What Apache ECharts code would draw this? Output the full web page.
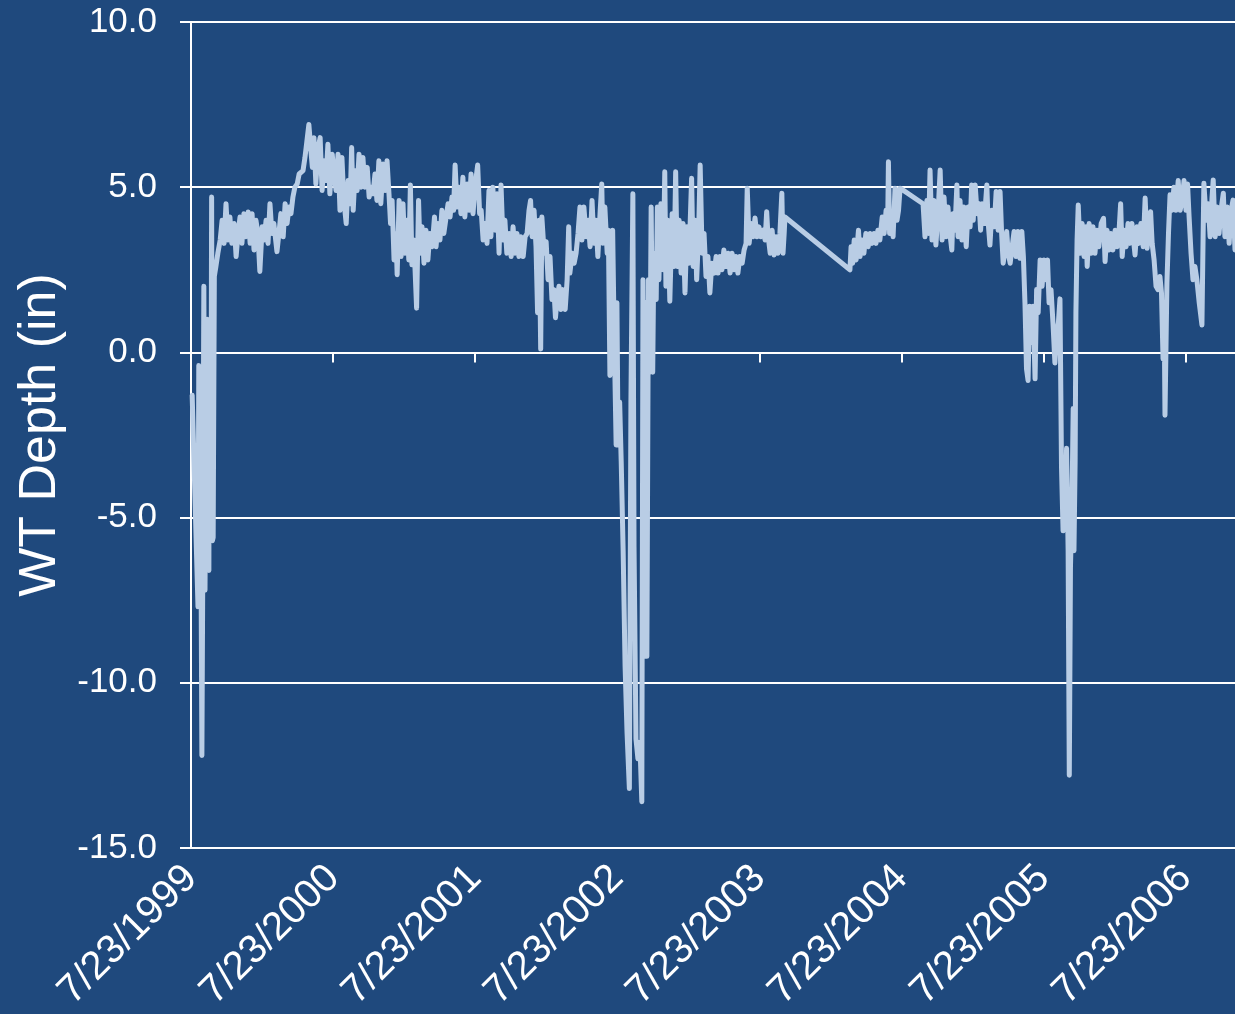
<!DOCTYPE html>
<html>
<head>
<meta charset="utf-8">
<title>WT Depth</title>
<script src="https://cdn.jsdelivr.net/npm/echarts@6/dist/echarts.min.js"></script>
<style>
  html, body { margin: 0; padding: 0; background: #1F497D; }
  #chart { width: 1235px; height: 1014px; }
</style>
</head>
<body>
<div id="chart"></div>
<script>
// Water-table depth record, one reading per sample day.
// Days are counted from 7/23/1999.
const yearTickLabels = ['7/23/1999', '7/23/2000', '7/23/2001', '7/23/2002',
                        '7/23/2003', '7/23/2004', '7/23/2005', '7/23/2006'];
const daysPerYear = 365.25;
const lastDay = 2684;

const sampleDays = [
  3, 18, 20, 22, 24, 26, 28, 30, 33, 36, 40, 42, 44, 45, 46, 47, 48, 50, 51, 53, 55, 57, 60, 64, 69, 75,
  80, 85, 90, 95, 100, 105, 111, 116, 121, 126, 131, 136, 141, 147, 152, 157, 162, 167, 172, 177,
  183, 188, 193, 198, 203, 208, 213, 221, 226, 231, 237, 242, 247, 252, 257, 262, 267, 273, 278,
  283, 288, 293, 298, 303, 309, 312, 316, 321, 327, 332, 337, 342, 347, 352, 357, 363, 368,
  373, 378, 383, 388, 393, 399, 404, 409, 413, 417, 422, 427, 432, 437, 442, 447, 453, 458, 463,
  468, 473, 478, 483, 488, 494, 499, 504, 509, 513, 517, 522, 527, 530, 535, 540, 545, 550, 555,
  560, 564, 568, 573, 580, 585, 589, 594, 599, 604, 609, 614, 620, 626, 630, 635, 640, 645, 650,
  656, 661, 666, 671, 675, 679, 684, 689, 694, 699, 704, 710, 715,
  720, 725, 730, 737, 742, 746, 751, 756, 761, 766, 771, 776, 782, 787, 792, 797, 802, 807, 812,
  818, 823, 828, 833, 838, 843, 848, 854, 859, 864, 869, 873, 877, 882, 887, 891, 895, 899, 902,
  908, 913, 918, 923, 928, 933, 937, 941, 946, 951, 956, 962, 967, 971, 974, 980, 985, 990, 995,
  1000, 1005, 1010, 1016, 1021, 1026, 1031, 1036, 1041, 1046, 1052, 1056, 1059, 1064, 1070, 1073,
  1077, 1080, 1084, 1088, 1093, 1095, 1098, 1102, 1106, 1111, 1116, 1121, 1127, 1131, 1136, 1139,
  1144, 1149, 1154, 1159, 1162, 1165, 1169, 1172, 1176, 1180, 1183, 1187, 1190, 1196, 1199, 1203,
  1208, 1214, 1218, 1221, 1226, 1231, 1237, 1242, 1246, 1250, 1255, 1260, 1265, 1270, 1275, 1280,
  1287, 1291, 1296, 1300, 1305, 1309, 1314, 1319, 1324, 1329, 1334, 1339, 1345, 1350, 1355, 1360,
  1365, 1370, 1375, 1381, 1386, 1391, 1396, 1401, 1406, 1411, 1417, 1422, 1427, 1430, 1435, 1440,
  1445, 1450, 1455, 1460, 1465, 1471, 1476, 1480, 1483, 1489, 1494, 1499, 1504, 1509, 1514, 1519,
  1522, 1525, 1527,
  1694, 1697, 1701, 1705, 1710, 1716, 1720, 1725, 1730, 1735, 1741, 1746, 1751, 1756, 1761, 1766,
  1771, 1777, 1782, 1787, 1791, 1793, 1796, 1800, 1805, 1810, 1815, 1819, 1823,
  1882, 1887, 1892, 1896, 1900, 1905, 1910, 1915, 1921, 1926, 1931, 1936, 1941, 1946, 1951, 1956,
  1959, 1964, 1969, 1972, 1977, 1982, 1987, 1993, 1998, 2003, 2007, 2011, 2016, 2021, 2026, 2030,
  2034, 2039, 2046, 2049, 2054, 2059, 2065, 2070, 2075, 2080, 2084, 2088, 2093, 2097, 2101, 2106,
  2111, 2116, 2121, 2126, 2131, 2136, 2140, 2144, 2148, 2152, 2156, 2160, 2165, 2170, 2174, 2178,
  2183, 2188, 2193, 2198, 2202, 2206, 2211, 2216, 2221, 2226, 2230, 2234, 2238, 2242, 2246, 2251,
  2255, 2258, 2261, 2265, 2268, 2270, 2273, 2275, 2278, 2281,
  2286, 2291, 2296, 2301, 2304, 2309, 2314, 2319, 2324, 2329, 2334, 2340, 2346, 2350, 2355, 2360,
  2365, 2370, 2376, 2381, 2386, 2390, 2394, 2399, 2404, 2409, 2414, 2419, 2424, 2427, 2432, 2437,
  2442, 2448, 2453, 2458, 2463, 2467, 2471, 2476, 2481, 2486, 2491, 2495, 2499, 2502, 2504, 2509,
  2513, 2517, 2522, 2527, 2532, 2538, 2543, 2548, 2553, 2558, 2562, 2566, 2571, 2576, 2581, 2586,
  2592, 2599, 2602, 2604, 2610, 2615, 2620, 2625, 2628, 2633, 2638, 2643, 2648, 2654, 2658, 2664,
  2669, 2674, 2679, 2684
];

const wtDepth = [
  -1.3, -7.7, -0.4, -7.3, -0.6, -7.0, -12.2, -7.3, 2.0, -7.2, -0.2, 1.0, -6.5, -0.5, -6.6, 0.5, -5.2, -0.3, -5.3, 4.7, -5.7, -5.6, 2.3, 2.6, 3.0, 3.4,
  4.0, 3.3, 4.5, 3.4, 4.1, 3.3, 3.9, 2.9, 3.6, 4.1, 3.3, 4.2, 3.5, 4.25, 3.3, 4.2, 3.1, 4.0, 3.6, 2.45,
  3.8, 3.4, 4.0, 3.3, 4.5, 3.6, 3.9, 3.05, 3.6, 4.2, 3.5, 4.5, 3.9, 4.4, 4.2, 4.7, 5.0, 5.1, 5.4,
  5.4, 5.5, 5.9, 6.4, 6.9, 6.0, 5.6, 6.5, 5.1, 6.2, 6.5, 4.9, 5.8, 5.2, 6.3, 4.8, 6.0, 5.4,
  4.9, 6.0, 4.3, 5.9, 4.6, 3.9, 5.2, 4.5, 6.2, 4.3, 5.5, 4.9, 6.0, 5.0, 5.9, 5.0, 5.6, 4.7, 5.0,
  4.8, 5.4, 4.6, 5.8, 4.5, 5.7, 4.9, 5.8, 4.8, 3.9, 4.6, 2.8, 3.6, 2.35, 4.6, 2.9, 4.5, 3.0, 4.0,
  2.8, 5.07, 2.65, 3.4, 1.34, 4.6, 3.0, 3.8, 2.7, 3.7, 2.8, 3.6, 3.2, 4.1, 3.2, 3.9, 3.4, 4.3, 3.6,
  4.1, 4.5, 4.1, 4.7, 4.3, 5.67, 4.4, 5.0, 4.2, 5.3, 4.1, 5.1, 4.3,
  5.4, 4.2, 5.0, 5.67, 4.2, 4.3, 3.4, 3.9, 3.3, 4.9, 3.5, 5.0, 3.7, 4.8, 3.0, 5.07, 3.4, 4.0, 3.0,
  3.6, 2.9, 3.8, 3.0, 3.6, 2.9, 3.5, 2.9, 3.5, 3.6, 4.3, 4.6, 3.5, 4.3, 3.2, 1.2, 4.0, 0.1, 4.1,
  3.0, 3.35, 2.2, 2.9, 1.6, 1.9, 1.05, 1.6, 2.0, 1.3, 1.9, 1.3, 2.2, 3.8, 2.4, 3.0, 2.7, 3.0, 3.6,
  4.4, 3.4, 4.4, 3.5, 4.0, 3.2, 4.6, 3.3, 4.0, 2.9, 4.3, 5.1, 3.3, 4.4, 3.0, 3.7,
  -0.7, 2.5, 3.7, 0.5, -2.8, 1.5, -2.8, -1.5, -3.3, -6.0, -9.5, -11.5, -13.2, -1.5, 4.8, -5.9,
  -11.7, -12.3, -11.8, -13.6, 2.2, -9.2, 1.5, -9.2, 2.2, -0.6, 4.4, -0.6, 3.0, 1.6, 4.4, 2.2,
  4.5, 2.5, 5.47, 2.0, 4.0, 1.55, 4.2, 2.6, 5.47, 2.6, 4.0, 2.4, 3.9, 1.8, 3.8, 2.7,
  5.27, 2.6, 4.0, 2.2, 3.6, 5.67, 3.0, 3.6, 2.3, 2.9, 1.8, 2.7, 2.4, 2.9, 2.4, 2.9,
  2.5, 3.1, 2.6, 3.0, 2.4, 3.0, 2.5, 2.9, 2.4, 2.9, 2.7, 3.1, 3.3, 4.97, 3.3, 3.9,
  3.5, 4.07, 3.5, 3.8, 3.5, 3.7, 3.4, 4.26, 3.6, 3.0, 3.7, 2.95, 3.5, 3.0, 3.6, 4.82,
  3.0, 3.6, 4.1,
  2.5, 3.2, 2.7, 3.4, 2.8, 3.7, 2.9, 3.4, 3.0, 3.6, 3.2, 3.6, 3.3, 3.6, 3.3, 3.7,
  3.4, 4.1, 3.6, 4.3, 3.8, 5.77, 3.6, 4.2, 3.5, 4.97, 4.0, 4.3, 4.97,
  4.5, 3.5, 4.6, 3.6, 5.52, 3.4, 4.6, 3.25, 4.3, 5.52, 3.4, 4.7, 3.5, 4.4, 3.6, 3.1,
  4.2, 3.7, 5.07, 3.5, 4.6, 3.4, 4.4, 3.2, 4.4, 3.8, 5.07, 4.0, 5.07, 4.2, 4.5, 3.7,
  4.5, 3.9, 5.07, 4.0, 3.25, 4.3, 3.8, 4.87, 3.7, 4.87, 3.6, 2.7, 3.1, 3.66, 3.0, 2.7,
  3.2, 3.66, 2.9, 3.66, 2.85, 3.66, 2.9, 1.5, -0.5, -0.85, 1.4, 0.3, 1.4, -0.8, 1.9, 1.2,
  2.8, 2.0, 2.8, 2.2, 2.8, 1.5, 1.9, 0.9, -0.32, 0.6, 0.9, 1.62, -3.5, -5.4, -5.2, -2.9,
  -6.0, -12.8, -6.5, -4.5, -1.7, -6.0, -3.3, 1.2, 3.4, 4.46,
  3.0, 3.9, 2.9, 3.8, 2.6, 3.9, 3.0, 3.8, 3.0, 3.7, 3.2, 3.9, 4.06, 2.75, 3.7, 3.1,
  3.6, 3.1, 3.7, 3.2, 3.7, 4.5, 2.9, 3.7, 3.2, 3.9, 3.3, 3.9, 3.3, 2.95, 3.8, 3.3,
  3.9, 3.2, 4.67, 3.15, 3.8, 4.26, 3.3, 2.8, 2.0, 1.9, 2.3, 1.8, -0.2, 1.0, -1.9, 2.1,
  3.6, 4.77, 4.3, 5.0, 4.3, 5.2, 4.3, 4.6, 5.2, 4.3, 5.1, 4.1, 3.0, 2.2, 2.6, 2.2,
  1.5, 0.83, 3.5, 5.12, 4.0, 4.5, 3.5, 4.7, 5.22, 3.5, 4.4, 3.6, 4.3, 4.82, 3.5, 4.4,
  3.3, 4.3, 4.61, 3.1
];

const yearTickDays = yearTickLabels.map((_, i) => i * daysPerYear);

const series = sampleDays.map((d, i) => [d, wtDepth[i]]);

const textFont = '"Liberation Sans", Arial, sans-serif';
const white = '#FFFFFF';

function yearLabel(v) {
  const k = v / daysPerYear;
  const n = Math.round(k);
  if (Math.abs(k - n) > 1e-6 || n < 0 || n >= yearTickLabels.length) return '';
  return yearTickLabels[n];
}

const chart = echarts.init(document.getElementById('chart'), null, { renderer: 'canvas' });

chart.setOption({
  backgroundColor: '#1F497D',
  animation: false,
  grid: {
    left: 191, right: 0, top: 22, bottom: 166,
    containLabel: false,
    outerBoundsMode: 'none'
  },
  xAxis: [
    {
      // axis line crossing at zero depth, with its tick marks
      type: 'value',
      position: 'bottom',
      min: 0, max: lastDay, interval: daysPerYear,
      axisLine: { show: true, onZero: true, lineStyle: { color: white, width: 2 } },
      axisTick: { show: true, inside: false, length: 10, customValues: yearTickDays,
                  lineStyle: { color: white, width: 2 } },
      axisLabel: { show: false },
      splitLine: { show: false }
    },
    {
      // date labels along the bottom edge
      type: 'value',
      position: 'bottom',
      min: 0, max: lastDay, interval: daysPerYear,
      axisLine: { show: false, onZero: false },
      axisTick: { show: false },
      axisLabel: {
        show: true, rotate: 45, margin: 24,
        customValues: yearTickDays,
        color: white, fontSize: 40, fontFamily: textFont,
        formatter: yearLabel
      },
      splitLine: { show: false }
    }
  ],
  yAxis: {
    type: 'value',
    min: -15, max: 10, interval: 5,
    name: 'WT Depth (in)',
    nameLocation: 'middle',
    nameRotate: 90,
    nameGap: 124,
    nameTextStyle: { color: white, fontSize: 52, fontFamily: textFont },
    axisLine: { show: true, onZero: false, lineStyle: { color: white, width: 2 } },
    axisTick: { show: true, inside: false, length: 11, lineStyle: { color: white, width: 2 } },
    axisLabel: {
      color: white, fontSize: 35, fontFamily: textFont, margin: 34,
      formatter: v => v.toFixed(1)
    },
    splitLine: { show: true, lineStyle: { color: white, width: 2 } }
  },
  series: [{
    type: 'line',
    xAxisIndex: 0,
    data: series,
    showSymbol: false,
    symbol: 'none',
    clip: true,
    lineStyle: { color: '#B9CDE5', width: 5, join: 'round', cap: 'round' }
  }]
});
</script>
</body>
</html>
